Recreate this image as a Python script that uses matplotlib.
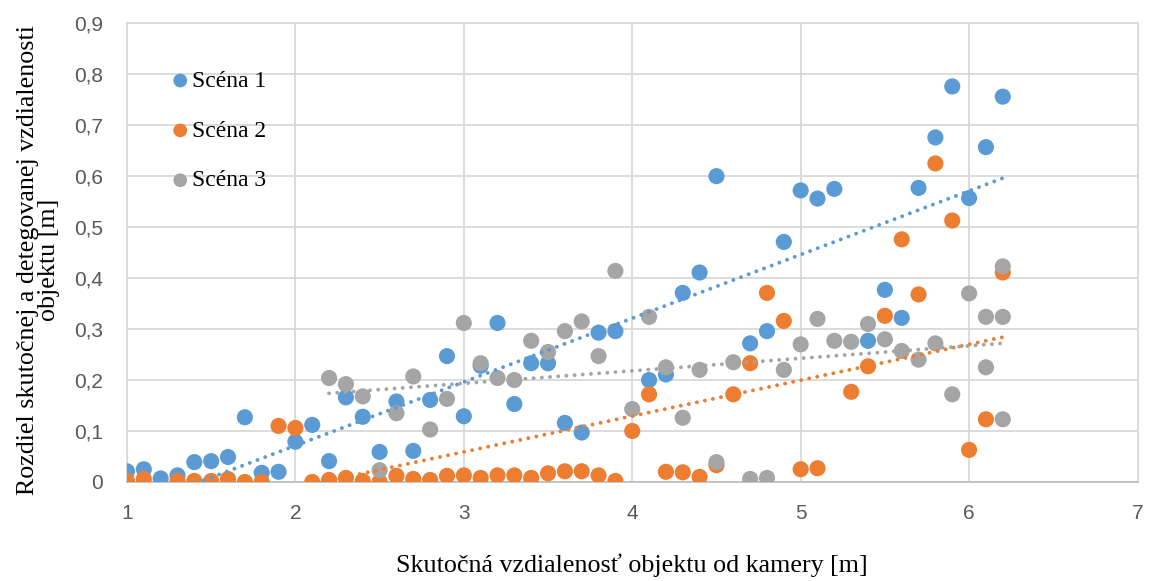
import numpy as np
import matplotlib
matplotlib.use("Agg")
import matplotlib.pyplot as plt
from matplotlib.ticker import FuncFormatter, MultipleLocator

# scene 1 (blue)
x1 = [1.0, 1.1, 1.2, 1.3, 1.4, 1.5, 1.6, 1.7, 1.8, 1.9, 2.0, 2.1, 2.2, 2.3, 2.4, 2.5,
      2.6, 2.7, 2.8, 2.9, 3.0, 3.1, 3.2, 3.3, 3.4, 3.5, 3.6, 3.7, 3.8, 3.9, 4.1, 4.2,
      4.3, 4.4, 4.5, 4.7, 4.8, 4.9, 5.0, 5.1, 5.2, 5.4, 5.5, 5.6, 5.7, 5.8, 5.9, 6.0,
      6.1, 6.2]
y1 = [0.021, 0.025, 0.007, 0.013, 0.039, 0.041, 0.049, 0.127, 0.018, 0.020, 0.079, 0.112,
      0.041, 0.166, 0.128, 0.059, 0.158, 0.061, 0.161, 0.247, 0.129, 0.228, 0.312, 0.153,
      0.233, 0.233, 0.116, 0.097, 0.293, 0.296, 0.200, 0.211, 0.371, 0.411, 0.600, 0.272,
      0.296, 0.471, 0.572, 0.556, 0.575, 0.277, 0.377, 0.322, 0.577, 0.676, 0.776, 0.557,
      0.657, 0.756]

# scene 2 (orange)
x2 = [1.0, 1.1, 1.3, 1.4, 1.5, 1.6, 1.7, 1.8, 1.9, 2.0, 2.1, 2.2, 2.3, 2.4, 2.5, 2.6,
      2.7, 2.8, 2.9, 3.0, 3.1, 3.2, 3.3, 3.4, 3.5, 3.6, 3.7, 3.8, 3.9, 4.0, 4.1, 4.2,
      4.3, 4.4, 4.5, 4.6, 4.7, 4.8, 4.9, 5.0, 5.1, 5.3, 5.4, 5.5, 5.6, 5.7, 5.8, 5.9,
      6.0, 6.1, 6.2]
y2 = [0.002, 0.006, 0.002, 0.002, 0.002, 0.006, 0.0, 0.0, 0.110, 0.106, 0.0, 0.004,
      0.008, 0.002, 0.0, 0.012, 0.006, 0.004, 0.012, 0.013, 0.008, 0.013, 0.013, 0.008,
      0.017, 0.021, 0.021, 0.013, 0.002, 0.100, 0.172, 0.020, 0.019, 0.010, 0.033, 0.172,
      0.233, 0.371, 0.316, 0.025, 0.027, 0.177, 0.227, 0.326, 0.476, 0.368, 0.625, 0.513,
      0.063, 0.123, 0.411]

# scene 3 (gray)
x3 = [2.2, 2.3, 2.4, 2.5, 2.6, 2.7, 2.8, 2.9, 3.0, 3.1, 3.2, 3.3, 3.4, 3.5, 3.6, 3.7,
      3.8, 3.9, 4.0, 4.1, 4.2, 4.3, 4.4, 4.5, 4.6, 4.7, 4.8, 4.9, 5.0, 5.1, 5.2, 5.3,
      5.4, 5.5, 5.6, 5.7, 5.8, 5.9, 6.0, 6.1, 6.1, 6.2, 6.2, 6.2]
y3 = [0.204, 0.192, 0.168, 0.023, 0.135, 0.207, 0.103, 0.163, 0.312, 0.233, 0.204, 0.200,
      0.277, 0.255, 0.296, 0.315, 0.247, 0.414, 0.143, 0.324, 0.225, 0.126, 0.220, 0.039,
      0.235, 0.006, 0.008, 0.220, 0.270, 0.320, 0.277, 0.275, 0.310, 0.280, 0.257, 0.240,
      0.272, 0.172, 0.370, 0.324, 0.225, 0.423, 0.324, 0.123]

labels = ["Scéna 1", "Scéna 2", "Scéna 3"]
colors = ["#5B9BD5", "#ED7D31", "#A5A5A5"]

fig = plt.figure(figsize=(11.49, 5.81), dpi=100)
ax = fig.add_axes([0.1105, 0.1704, 0.8795, 0.7896])

series = [(x1, y1), (x2, y2), (x3, y3)]
for (xs, ys), lab, c in zip(series, labels, colors):
    ax.scatter(xs, ys, s=135, color=c, edgecolors="none", label=lab, zorder=3)

# linear trendlines (Excel style, round dots)
for (xs, ys), c in zip(series, colors):
    k, q = np.polyfit(xs, ys, 1)
    xx = np.linspace(min(xs), max(xs), 200)
    ax.plot(xx, k * xx + q, color=c, lw=2.8, linestyle=(0, (0.01, 2.1)),
            dash_capstyle="round", zorder=4)

ax.set_xlim(1, 7)
ax.set_ylim(0, 0.9)
ax.xaxis.set_major_locator(MultipleLocator(1))
ax.yaxis.set_major_locator(MultipleLocator(0.1))
ax.yaxis.set_major_formatter(FuncFormatter(
    lambda v, p: "0" if abs(v) < 1e-9 else ("%.1f" % v).replace(".", ",")))
ax.grid(True, color="#D9D9D9", lw=1.3, zorder=0)
ax.set_axisbelow(True)
for sp in ax.spines.values():
    sp.set_color("#D9D9D9")
    sp.set_linewidth(1.3)
ax.spines["bottom"].set_color("#BFBFBF")
ax.tick_params(length=0, labelsize=15, labelcolor="#595959")
ax.tick_params(axis="x", pad=16)
ax.tick_params(axis="y", pad=17)
for t in ax.get_xticklabels() + ax.get_yticklabels():
    t.set_fontfamily("Liberation Sans")

ax.set_xlabel("Skutočná vzdialenosť objektu od kamery [m]", family="Liberation Serif",
              fontsize=18.7, va="baseline")
ax.xaxis.set_label_coords(0.5, -0.196)
ax.set_ylabel("Rozdiel skutočnej a detegovanej vzdialenosti\nobjektu [m]",
              family="Liberation Serif", fontsize=18.7, linespacing=0.93)
ax.yaxis.set_label_coords(-0.066, 0.484)

leg = ax.legend(loc="upper left", bbox_to_anchor=(0.02, 0.944), frameon=False,
                prop={"family": "Liberation Serif", "size": 17}, handletextpad=0.0,
                labelspacing=1.2, markerscale=0.85, handlelength=1.0)

fig.savefig("out.png", dpi=100)
